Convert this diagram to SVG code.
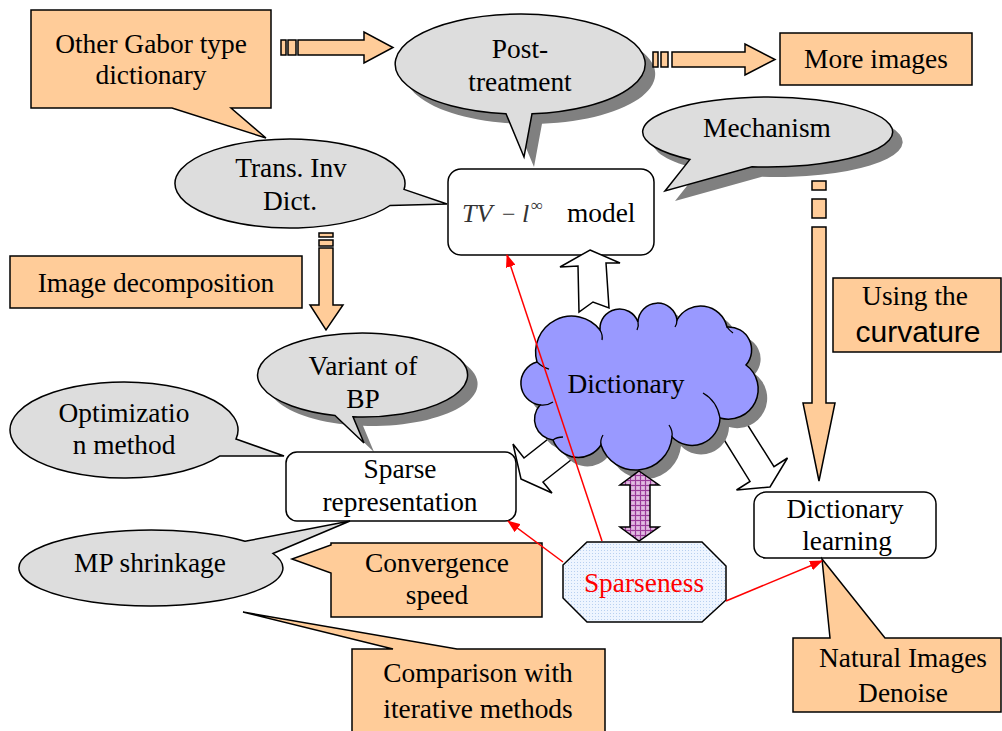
<svg xmlns="http://www.w3.org/2000/svg" width="1002" height="731" viewBox="0 0 1002 731">
<style>
.peach{fill:#FFCC99;stroke:#000;stroke-width:1.5}
.bubble{fill:#DDDDDD;stroke:#000;stroke-width:1.5}
.shadow{fill:#808080;stroke:none}
.box{fill:#fff;stroke:#000;stroke-width:1.5}
.hollow{fill:#fff;stroke:#000;stroke-width:1.5}
.t{font-family:"Liberation Serif","Times New Roman",serif;font-size:27.4px;fill:#000;text-anchor:middle}
.red{stroke:#FF0000;stroke-width:1.5;fill:none;marker-end:url(#redhead)}
.inner{fill:none;stroke:#000;stroke-width:1.3}
</style>
<defs>
<marker id="redhead" markerWidth="13" markerHeight="10" refX="12" refY="5" orient="auto" markerUnits="userSpaceOnUse">
<path d="M0,0 L13,5 L0,10 z" fill="#FF0000"/>
</marker>
<pattern id="purp" width="5" height="5" patternUnits="userSpaceOnUse">
<rect width="5" height="5" fill="#D8A8D8"/>
<path d="M0 0.5 H5 M0.5 0 V5" stroke="#9A3C9A" stroke-width="1"/>
<rect x="2.5" y="2.5" width="1" height="1" fill="#fff"/>
</pattern>
<pattern id="dots" width="3" height="3" patternUnits="userSpaceOnUse">
<rect width="3" height="3" fill="#EEF5FF"/>
<rect x="1" y="1" width="1" height="1" fill="#B8D0F0"/>
</pattern>
<path id="bPost" d="M506 113.7 L524 157 L532 113.8 A125 50 0 1 0 506 113.7 Z"/>
<path id="bMech" d="M690 159.4 L665 191 L752 166.7 A125 35 0 1 0 690 159.4 Z"/>
<path id="bVar" d="M335 415.5 L364 443 L353 416.8 A105 42 0 1 0 335 415.5 Z"/>
<path id="cloud" d="M537 362 A36 36 0 0 1 600 330 A19.6 19.6 0 0 1 638 322 A19.6 19.6 0 0 1 677 320 A27 27 0 0 1 727 327 A23 23 0 0 1 746 365 A30 30 0 0 1 720 418 A28 28 0 0 1 672 437 A36.5 36.5 0 0 1 601 445 A27 27 0 0 1 553 440 A21 21 0 0 1 540 405 A22 22 0 0 1 537 362 Z"/>
</defs>

<g id="node-gabor">
<path class="peach" d="M31 10 H271 V108 H231 L266 138 L172 108 H31 Z"/>
<text class="t" x="151" y="53">Other Gabor type</text>
<text class="t" x="151" y="84">dictionary</text>
</g>

<g id="node-post">
<use href="#bPost" class="shadow" transform="translate(10,10)"/>
<use href="#bPost" class="bubble"/>
<text class="t" x="520" y="58">Post-</text>
<text class="t" x="520" y="91">treatment</text>
</g>

<g id="node-more">
<rect class="peach" x="780" y="33" width="192" height="52"/>
<text class="t" x="876" y="68">More images</text>
</g>

<g id="node-mech">
<use href="#bMech" class="shadow" transform="translate(10,10)"/>
<use href="#bMech" class="bubble"/>
<text class="t" x="767" y="137">Mechanism</text>
</g>

<g id="node-trans">
<path class="bubble" d="M404 189.4 L447 204 L390 205.5 A115 44.5 0 1 1 404 189.4 Z"/>
<text class="t" x="291" y="177">Trans. Inv</text>
<text class="t" x="290" y="210">Dict.</text>
</g>

<g id="node-tv">
<rect class="box" x="448" y="169" width="206" height="86" rx="13"/>
<text x="462" y="222" font-family="Liberation Serif, serif" font-style="italic" font-size="26" fill="#333">TV</text>
<text x="502" y="222" font-family="Liberation Serif, serif" font-size="24" fill="#333">−</text>
<text x="522" y="222" font-family="Liberation Serif, serif" font-style="italic" font-size="26" fill="#333">l</text>
<text x="531" y="211" font-family="Liberation Serif, serif" font-size="17" fill="#333">∞</text>
<text x="567" y="222" font-family="Liberation Serif, serif" font-size="27.4">model</text>
</g>

<g id="node-imgdec">
<rect class="peach" x="10" y="256" width="292" height="52"/>
<text class="t" x="156" y="292">Image decomposition</text>
</g>

<g id="node-curv">
<rect class="peach" x="833" y="278" width="168" height="74"/>
<text class="t" x="915" y="305">Using the</text>
<text x="918" y="342" font-family="Liberation Sans, Arial, sans-serif" font-size="30" text-anchor="middle">curvature</text>
</g>

<g id="node-variant">
<use href="#bVar" class="shadow" transform="translate(10,9)"/>
<use href="#bVar" class="bubble"/>
<text class="t" x="363" y="375">Variant of</text>
<text class="t" x="363" y="408">BP</text>
</g>

<g id="node-optim">
<path class="bubble" d="M236 439 L284 456 L220 455.9 A114 48 0 1 1 236 439 Z"/>
<text class="t" x="124" y="422">Optimizatio</text>
<text class="t" x="124" y="454">n method</text>
</g>

<g id="node-sparse">
<rect class="box" x="286" y="452" width="230" height="69" rx="11"/>
<text class="t" x="400" y="478">Sparse</text>
<text class="t" x="400" y="511">representation</text>
</g>

<g id="node-dictlearn">
<rect class="box" x="754" y="492" width="182" height="66" rx="12"/>
<text class="t" x="845" y="518">Dictionary</text>
<text class="t" x="847" y="550">learning</text>
</g>

<g id="node-mp">
<path class="bubble" d="M245 541.3 L350 521 L273 553.5 A132 38 0 1 1 245 541.3 Z"/>
<text class="t" x="150" y="572">MP shrinkage</text>
</g>

<g id="node-conv">
<path class="peach" d="M331 543 H542 V617 H331 V573 L292 559 L331 545 Z"/>
<text class="t" x="437" y="572">Convergence</text>
<text class="t" x="437" y="604">speed</text>
</g>

<g id="node-compare">
<path class="peach" d="M352 649 H393 L243 612 L457 649 H605 V745 H352 Z"/>
<text class="t" x="478" y="682">Comparison with</text>
<text class="t" x="478" y="718">iterative methods</text>
</g>

<g id="node-natural">
<path class="peach" d="M793 638 H830 L822 559 L885 638 H1001 V712 H793 Z"/>
<text class="t" x="903" y="667">Natural Images</text>
<text class="t" x="903" y="702">Denoise</text>
</g>

<g id="connectors-under-cloud">
<polygon class="hollow" points="521,479 552,493 543,482 590,445 571,421 524,458 513,444"/>
<polygon class="hollow" points="770,487 736.5,490 750,481.4 718,430 742,416 774,466.6 787.5,458"/>
</g>

<g id="node-dictionary">
<use href="#cloud" class="shadow" transform="translate(9,9)"/>
<use href="#cloud" fill="#9999FF" stroke="#000" stroke-width="1.5"/>
<path class="inner" d="M537 362 q5 5 12 7 M600 330 q3 5 2 10 M638 322 q1 4 -1 8 M677 320 q0 4 -2 7 M727 327 q2 3 6 6 M703 393 q14 8 17 25 M672 437 q1 -6 -3 -12 M601 445 q-1 -5 2 -10 M553 440 q4 -3 10 -3 M540 405 q7 1 13 -3"/>
<text class="t" x="626" y="393">Dictionary</text>
</g>

<g id="node-sparseness">
<polygon points="587,542 702,542 726,566 726,600 702,622 587,622 563,598 563,565" fill="url(#dots)" stroke="#000" stroke-width="1.5"/>
<text class="t" x="644" y="592" style="fill:#FF0000">Sparseness</text>
</g>

<g id="connectors">
<g class="peach">
<rect x="281" y="40" width="5" height="15"/>
<rect x="288" y="40" width="8" height="15"/>
<path d="M298 40 H364 V32 L393 47.5 L364 63 V55 H298 Z"/>
<rect x="653" y="52" width="5" height="15"/>
<rect x="661" y="52" width="7" height="15"/>
<path d="M672 52 H745 V44 L775 59.5 L745 75 V67 H672 Z"/>
<rect x="319" y="233" width="14" height="4"/>
<rect x="319" y="240" width="14" height="6"/>
<path d="M319 248 V305 H310 L326 330 L343 305 H333 V248 Z"/>
<rect x="812" y="181" width="14" height="9"/>
<rect x="812" y="199" width="14" height="19"/>
<path d="M812 227 V403 H803 L819 481 L835 403 H826 V227 Z"/>
</g>
<polygon class="hollow" points="590,250 620,263 606,263 609,308 593,302 579,312 578,266 560,267"/>
<polygon points="639,471 659,485 650,485 650,527 659,527 639,541 620,527 630,527 630,485 620,485" fill="url(#purp)" stroke="#000" stroke-width="1.5"/>
<line class="red" x1="602" y1="541" x2="507" y2="255"/>
<line class="red" x1="563" y1="562" x2="508" y2="521"/>
<line class="red" x1="726" y1="601" x2="822" y2="561"/>
</g>
</svg>
